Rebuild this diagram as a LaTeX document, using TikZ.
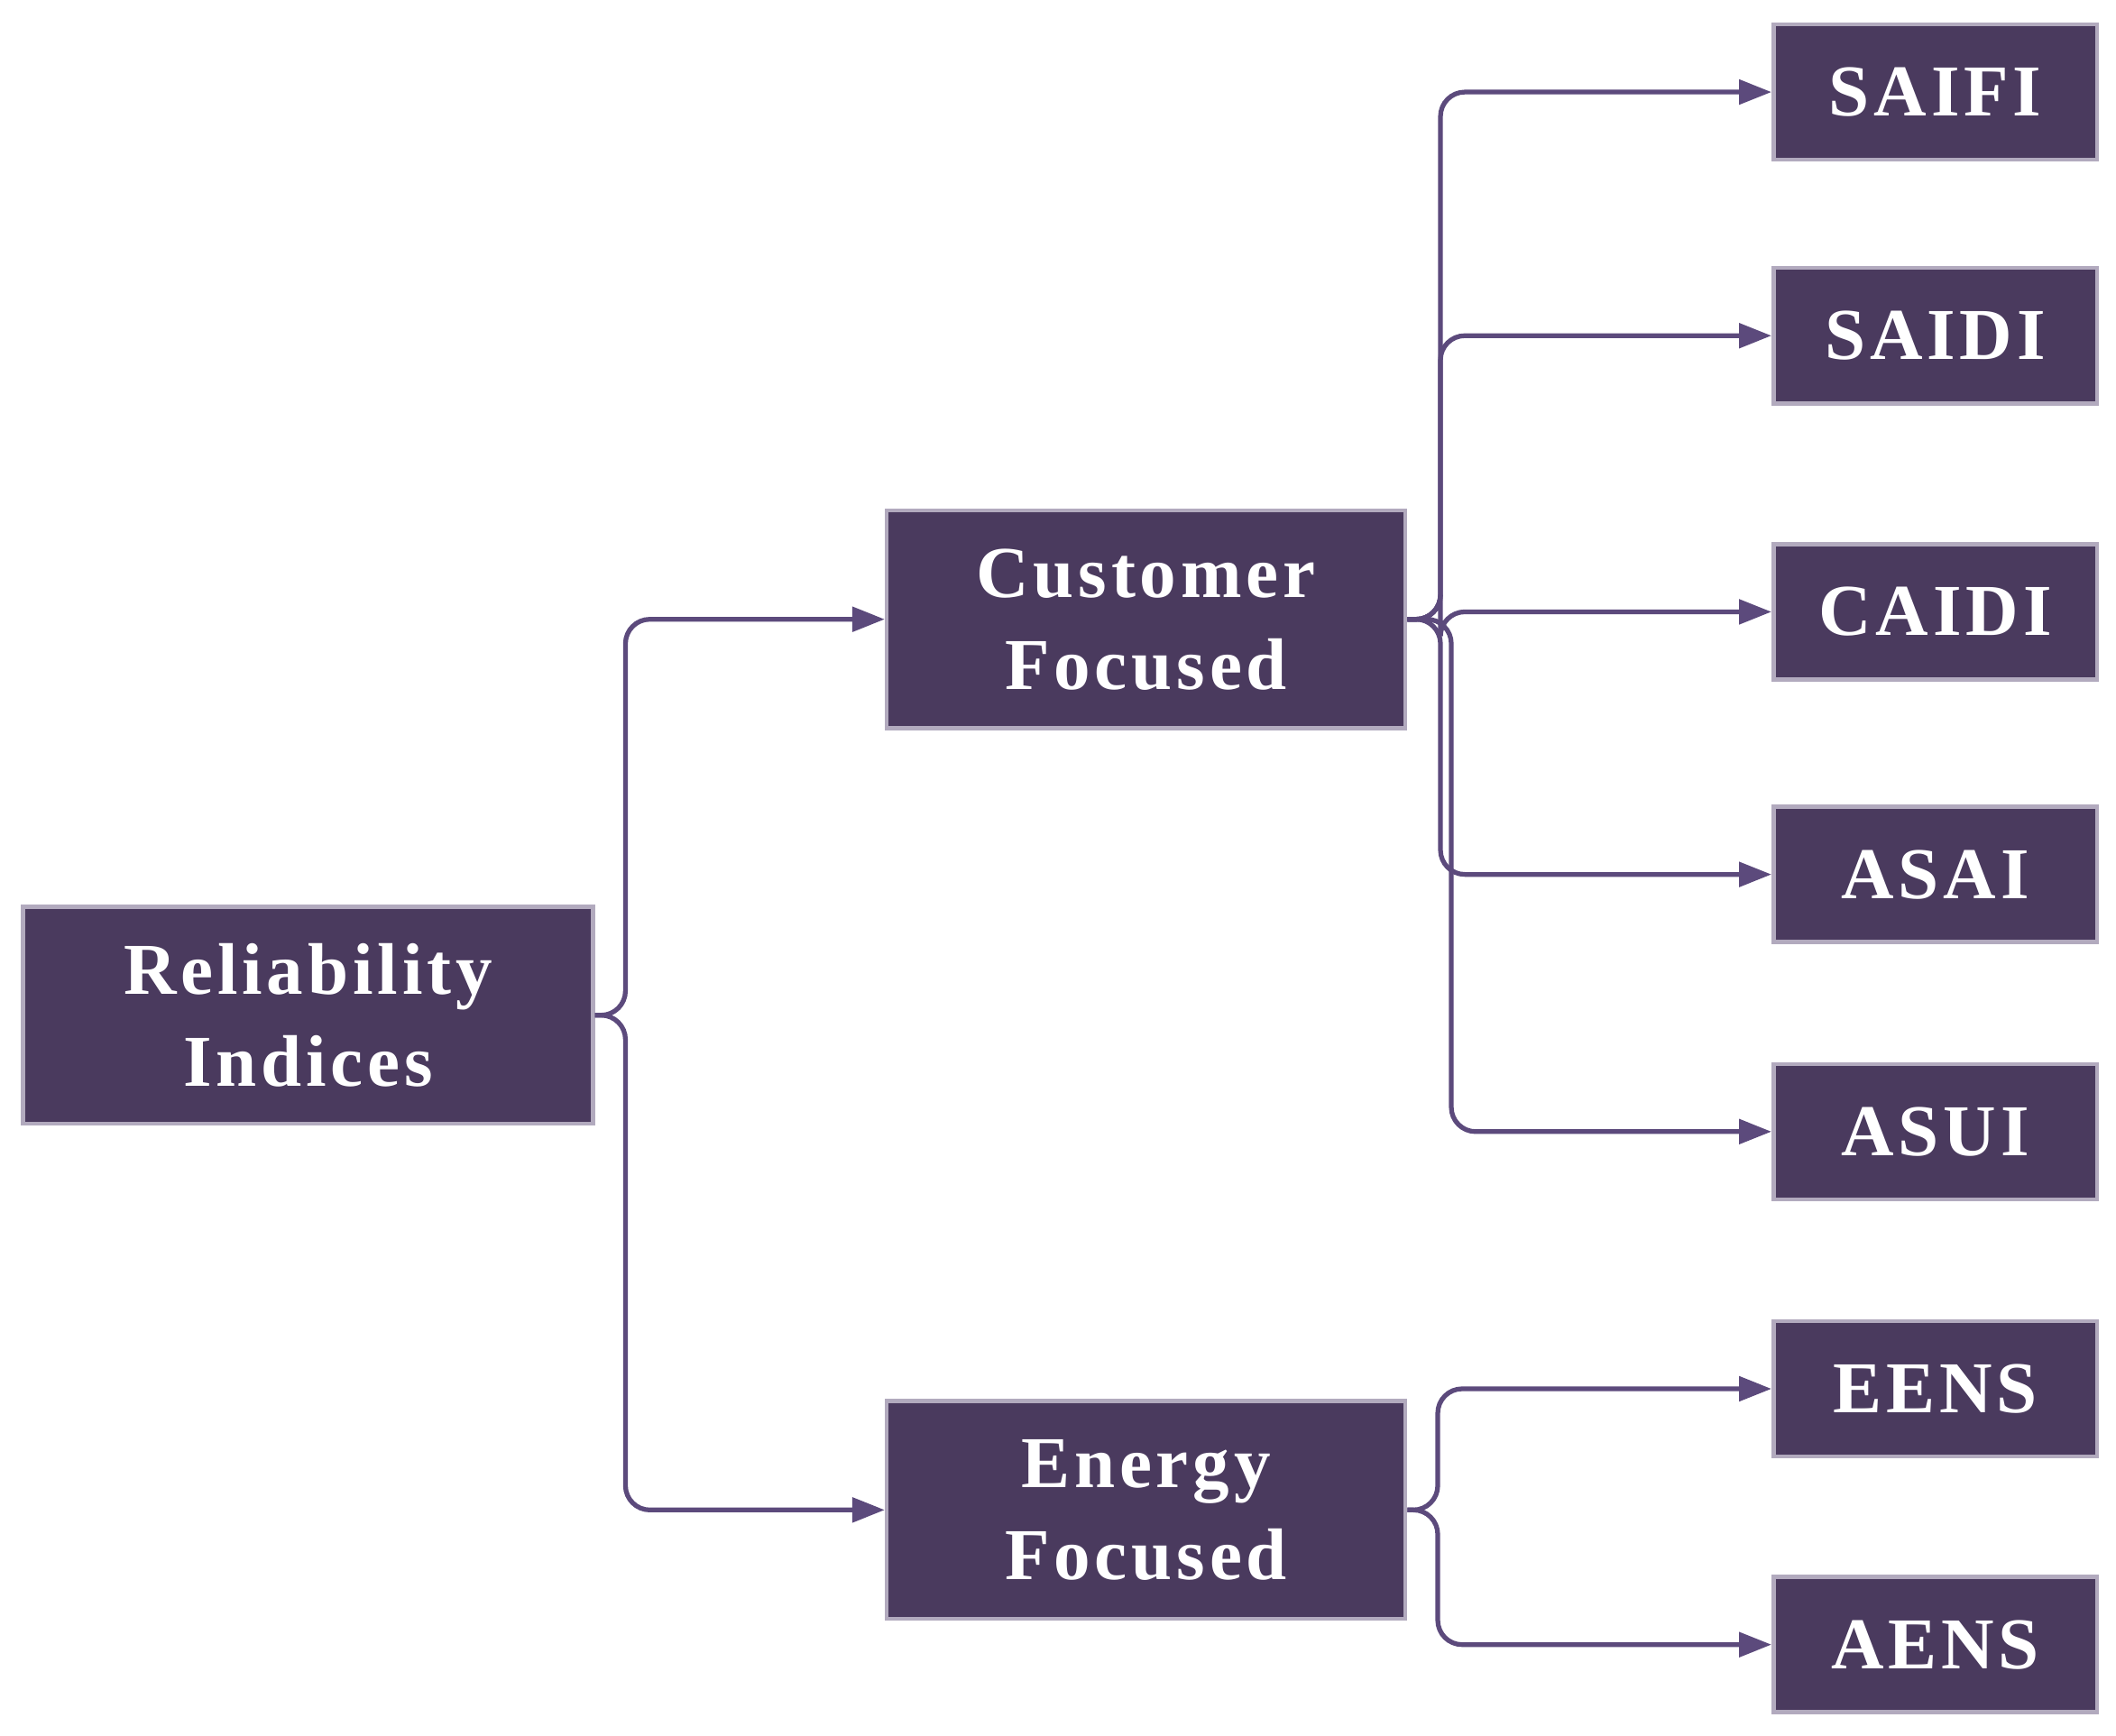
\documentclass[tikz,border=0pt]{standalone}
\usepackage{fontspec}
\setmainfont{Liberation Serif}
\usetikzlibrary{arrows.meta}
\definecolor{boxfill}{HTML}{4A3A5E}
\definecolor{boxedge}{HTML}{B2AABE}
\definecolor{linec}{HTML}{5C4A7C}
\begin{document}
\begin{tikzpicture}[x=1pt,y=-1pt,
 box/.style={draw=boxedge,line width=3pt,fill=boxfill,text=white,align=center,inner sep=0pt,
   font=\fontsize{54}{68}\selectfont\bfseries\addfontfeatures{LetterSpace=6}},
 conn/.style={draw=linec,line width=3.5pt,rounded corners=18pt,-{Triangle[length=24pt,width=18pt]}}]
\useasboundingbox (0,0) rectangle (1563,1282);
\node[box,minimum width=421pt,minimum height=160pt] (rel) at (227.5,750) {Reliability\\Indices};
\node[box,minimum width=383pt,minimum height=161pt] (cust) at (846.5,457.5) {Customer\\Focused};
\node[box,minimum width=383pt,minimum height=161pt] (ener) at (846.5,1115.5) {Energy\\Focused};
\foreach \n/\t/\y in {saifi/SAIFI/68,saidi/SAIDI/248,caidi/CAIDI/452,asai/ASAI/646,asui/ASUI/836,eens/EENS/1026,aens/AENS/1215}
  \node[box,minimum width=239pt,minimum height=100pt] (\n) at (1429.5,\y) {\t};
\coordinate (r1) at (462,750);
\draw[conn] (rel.east) -- (r1) |- (cust.west);
\draw[conn] (rel.east) -- (r1) |- (ener.west);
\coordinate (c1) at (1064,457.5);
\coordinate (c2) at (1072,457.5);
\foreach \n in {saifi,saidi,caidi,asai}
  \draw[conn] (cust.east) -- (c1) |- (\n.west);
\draw[conn] (cust.east) -- (c2) |- (asui.west);
\coordinate (e1) at (1062,1115.5);
\draw[conn] (ener.east) -- (e1) |- (eens.west);
\draw[conn] (ener.east) -- (e1) |- (aens.west);
\end{tikzpicture}
\end{document}
